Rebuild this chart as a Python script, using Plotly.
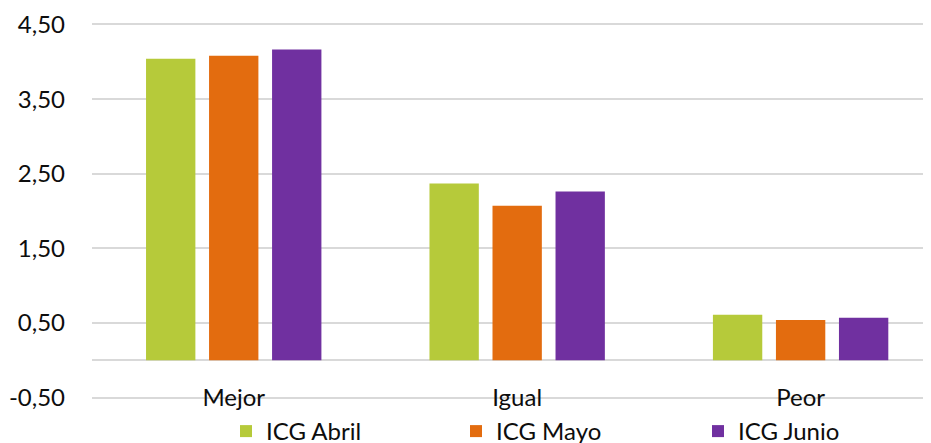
import plotly.graph_objects as go

categories = ["Mejor", "Igual", "Peor"]
series_names = ["ICG Abril", "ICG Mayo", "ICG Junio"]
abril = [4.04, 2.37, 0.61]
mayo = [4.08, 2.07, 0.54]
junio = [4.165, 2.26, 0.57]
series_values = [abril, mayo, junio]
colors = ["#B6CA3A", "#E36C0F", "#7030A0"]
legend_widths = [185, 197, 130]
y_ticks = [-0.5, 0.5, 1.5, 2.5, 3.5, 4.5]
y_tick_text = [f"{v:.2f}".replace(".", ",") for v in y_ticks]

FONT = "Lato, 'Liberation Sans', Arial, sans-serif"
TEXT = "#0d0d0d"
GRID = "#d9d9d9"

# page body has an 8px margin: figure is 923x435 so that it fills the 931x443 window
W, H = 923, 435
ML, MT, MB, MR = 84, 15, 44, 0
plot_h = H - MT - MB
plot_w = W - ML - MR

fig = go.Figure()
for name, vals, col, lw in zip(series_names, series_values, colors, legend_widths):
    fig.add_trace(go.Bar(
        x=categories, y=vals, name=name,
        marker=dict(color=col, line=dict(width=0)),
        legendwidth=lw,
    ))

fig.update_layout(
    width=W, height=H,
    margin=dict(l=ML, r=MR, t=MT, b=MB, pad=0, autoexpand=False),
    paper_bgcolor="white", plot_bgcolor="white",
    barmode="group", bargap=0.333, bargroupgap=0.217,
    font=dict(family=FONT, size=24, color=TEXT),
    showlegend=True,
    legend=dict(
        orientation="h", xref="paper", yref="paper",
        x=(218 - ML) / plot_w, xanchor="left",
        y=-10 / plot_h, yanchor="top",
        font=dict(family=FONT, size=24, color=TEXT),
        bgcolor="rgba(0,0,0,0)", borderwidth=0,
        traceorder="normal",
    ),
    xaxis=dict(
        type="category", range=[-0.5, 2.46],
        showgrid=False, showline=False, zeroline=False,
        ticks="", automargin=False,
        ticklabelstandoff=-18,
        tickfont=dict(family=FONT, size=24, color=TEXT),
    ),
    yaxis=dict(
        range=[-0.52, 4.52], tickvals=y_ticks, ticktext=y_tick_text,
        showgrid=True, gridcolor=GRID, gridwidth=1.5,
        zeroline=True, zerolinecolor=GRID, zerolinewidth=1.5,
        showline=False, ticks="", automargin=False,
        ticklabelstandoff=26,
        tickfont=dict(family=FONT, size=24, color=TEXT),
    ),
)

fig.write_html("out.html")
